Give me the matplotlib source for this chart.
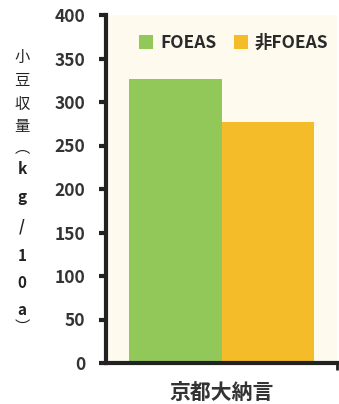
import matplotlib

matplotlib.use("Agg")
import matplotlib.pyplot as plt  # noqa: E402
from matplotlib.patches import Patch  # noqa: E402

plt.rcParams["font.family"] = ["Noto Sans CJK JP", "DejaVu Sans"]

# 小豆収量 (kg/10a)
category = ["京都大納言"]
series = ["FOEAS", "非FOEAS"]
values = [326, 277]
colors = ["#92C85A", "#F5BC2A"]
yticks = [0, 50, 100, 150, 200, 250, 300, 350, 400]
ylabel_chars = ["小", "豆", "収", "量", "︵", "k", "g", "/", "1", "0", "a", "︶"]
ylabel_pos = [57, 81, 104, 127, 148, 169, 197, 226, 256, 283, 310, 327]  # 縦書きの各文字の位置 (px)

W, H = 339, 404
fig = plt.figure(figsize=(W / 100, H / 100), dpi=100)
ax = fig.add_axes([106 / W, 1 - 363 / H, 231 / W, 348 / H])
ax.set_facecolor("#FEFBEE")

width = 0.4
for i, (name, v, c) in enumerate(zip(series, values, colors)):
    ax.bar(-width / 2 + i * width, v, width=width, color=c, label=name, zorder=2)

ax.set_xlim(-0.5, 0.5)
ax.set_ylim(0, 400)
ax.set_yticks(yticks)
ax.set_yticklabels([str(t) for t in yticks], fontsize=12.5, fontweight="bold", color="#333333")
ax.set_xticks([0.5])
ax.set_xticklabels([""])
ax.tick_params(axis="y", length=5, width=3, color="#222222", pad=10)
ax.tick_params(axis="x", length=5, width=2, color="#222222")
for s in ("top", "right"):
    ax.spines[s].set_visible(False)
for s in ("left", "bottom"):
    ax.spines[s].set_linewidth(3)
    ax.spines[s].set_color("#222222")

ax.text(0, -0.085, category[0], transform=ax.get_xaxis_transform(),
        ha="center", va="center", fontsize=15, fontweight="bold", color="#333333")

handles = [Patch(facecolor=c, label=n) for n, c in zip(series, colors)]
leg = ax.legend(handles=handles, loc="upper right", ncol=2, frameon=False,
                bbox_to_anchor=(1.03, 0.99), handlelength=0.8, handleheight=0.8,
                handletextpad=0.4, columnspacing=1.0,
                prop={"size": 12.5, "weight": "bold"})
for t in leg.get_texts():
    t.set_color("#2a2a2a")

for ch, y in zip(ylabel_chars, ylabel_pos):
    fig.text(22 / W, 1 - y / H, ch, ha="center", va="center",
             fontsize=11, fontweight="bold" if ch.isascii() else "normal",
             color="#222222")

fig.savefig("out.png", dpi=100)
